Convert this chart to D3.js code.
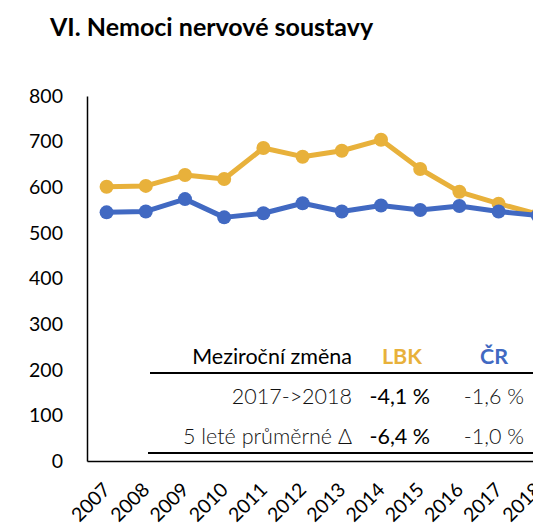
<!DOCTYPE html>
<html>
<head>
<meta charset="utf-8">
<script src="https://cdn.jsdelivr.net/npm/d3@7"></script>
<style>
  body { margin: 0; background: #fff; }
  svg { display: block; font-family: Lato, "Open Sans", sans-serif; }
</style>
</head>
<body>
<svg id="chart" width="533" height="530"></svg>
<script>
const years = ["2007","2008","2009","2010","2011","2012","2013","2014","2015","2016","2017","2018"];
const lbk = [601, 603, 627, 618, 686, 667, 680, 704, 640, 590, 564, 541];
const cr  = [545, 547, 574, 534, 543, 565, 547, 560, 550, 559, 547, 538];
const yTicks = [0, 100, 200, 300, 400, 500, 600, 700, 800];

const tableHead = ["Meziroční změna", "LBK", "ČR"];
const tableRows = [
  ["2017->2018", "-4,1 %", "-1,6 %"],
  ["5 leté průměrné Δ", "-6,4 %", "-1,0 %"]
];

const gold = "#E8B13B", blue = "#4169C2";

const svg = d3.select("#chart");

svg.append("text")
  .attr("x", 50).attr("y", 36)
  .style("font-size", "25px").style("font-weight", "bold")
  .text("VI. Nemoci nervové soustavy");

const x = d3.scaleBand().domain(years).range([87, 87 + 39.2 * years.length]);
const y = d3.scaleLinear().domain([0, 800]).range([461, 96]);

// y axis
const yAxis = svg.append("g")
  .attr("transform", "translate(87,0)")
  .call(d3.axisLeft(y).tickValues(yTicks).tickSize(0).tickPadding(24));
yAxis.select(".domain").attr("stroke", "#000").attr("stroke-width", 1.5);
yAxis.selectAll("text").style("font-size", "19.5px").style("font-family", "Lato").attr("fill", "#000");

// x axis
const xAxis = svg.append("g")
  .attr("transform", "translate(0,461)")
  .call(d3.axisBottom(x).tickSize(0).tickSizeOuter(0));
xAxis.select(".domain").attr("stroke", "#000").attr("stroke-width", 1.5);
xAxis.selectAll("text")
  .style("font-size", "19.5px").style("font-family", "Lato").attr("fill", "#000")
  .attr("text-anchor", "end")
  .attr("dy", 0).attr("y", 0)
  .attr("transform", "translate(5,30) rotate(-45)");

// lines
const line = d3.line().x((d, i) => x(years[i]) + x.bandwidth() / 2).y(d => y(d));
[[lbk, gold], [cr, blue]].forEach(([vals, col]) => {
  svg.append("path").datum(vals)
    .attr("d", line).attr("fill", "none")
    .attr("stroke", col).attr("stroke-width", 5).attr("stroke-linejoin", "round");
  svg.selectAll(null).data(vals).enter().append("circle")
    .attr("cx", (d, i) => x(years[i]) + x.bandwidth() / 2)
    .attr("cy", d => y(d))
    .attr("r", 7).attr("fill", col);
});

// table
const colX = [352, 430, 524];
const rowY = [364, 404, 444];
const tbl = svg.append("g").style("font-size", "21.5px");
tbl.append("text").attr("x", colX[0]).attr("y", rowY[0]).attr("text-anchor", "end").text(tableHead[0]);
tbl.append("text").attr("x", 402).attr("y", rowY[0]).attr("text-anchor", "middle")
  .attr("fill", gold).style("font-weight", "bold").text(tableHead[1]);
tbl.append("text").attr("x", 494).attr("y", rowY[0]).attr("text-anchor", "middle")
  .attr("fill", blue).style("font-weight", "bold").text(tableHead[2]);
tableRows.forEach((r, i) => {
  r.forEach((t, j) => {
    tbl.append("text").attr("x", colX[j]).attr("y", rowY[i + 1])
      .attr("text-anchor", "end")
      .attr("fill", j === 1 ? "#000" : "#111")
      .style("font-weight", j === 1 ? 400 : 300)
      .text(t);
  });
});
tbl.append("line").attr("x1", 150).attr("x2", 533).attr("y1", 373).attr("y2", 373)
  .attr("stroke", "#000").attr("stroke-width", 2);
tbl.append("line").attr("x1", 148).attr("x2", 533).attr("y1", 453).attr("y2", 453)
  .attr("stroke", "#000").attr("stroke-width", 2);
</script>
</body>
</html>
